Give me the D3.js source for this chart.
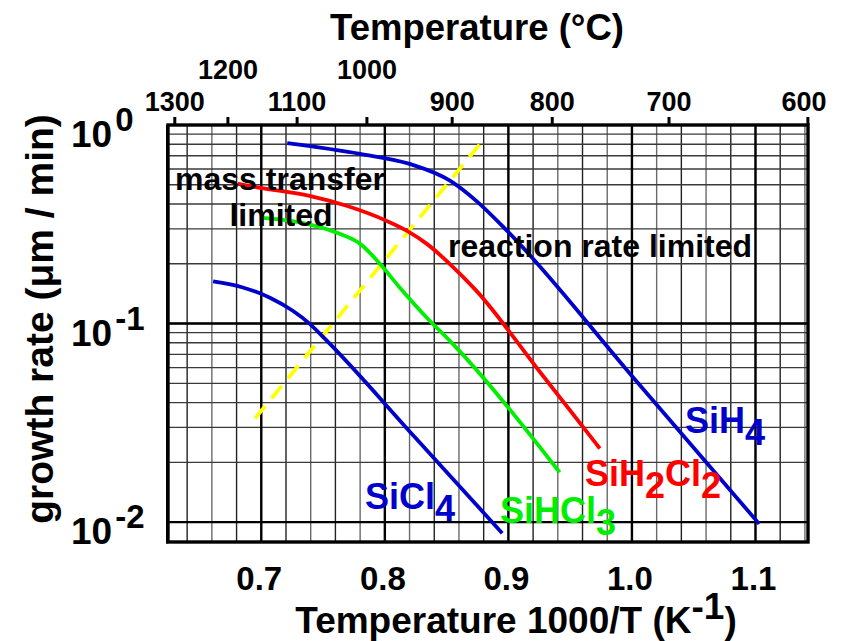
<!DOCTYPE html>
<html><head><meta charset="utf-8">
<script src="https://cdn.jsdelivr.net/npm/d3@7"></script>
<style>
html,body{margin:0;padding:0;background:#fff;}
text{font-family:"Liberation Sans",Arial,Helvetica,sans-serif;font-weight:bold;}
</style></head>
<body><svg id="c" width="842" height="641"></svg>
<script>
// ---- data ----
const sih4X    = [0.721, 0.780, 0.820, 0.853, 0.874, 0.899, 1.000, 1.103];
const sih4Y    = [0.810, 0.715, 0.637, 0.523, 0.415, 0.293, 0.0545, 0.0098];
const sih2cl2X = [0.681, 0.699, 0.739, 0.769, 0.8015, 0.818, 0.834, 0.8525, 0.874, 0.924, 0.974];
const sih2cl2Y = [0.505, 0.4825, 0.440, 0.392, 0.329, 0.293, 0.252, 0.200, 0.1465, 0.0587, 0.0235];
const sihcl3X  = [0.701, 0.737, 0.7635, 0.780, 0.796, 0.812, 0.834, 0.8525, 0.9415];
const sihcl3Y  = [0.341, 0.318, 0.283, 0.252, 0.200, 0.152, 0.107, 0.082, 0.0178];
const sicl4X   = [0.661, 0.685, 0.707, 0.7255, 0.739, 0.753, 0.824, 0.895];
const sicl4Y   = [0.163, 0.152, 0.135, 0.116, 0.100, 0.082, 0.0269, 0.0088];
const boundaryX = [0.695, 0.881];
const boundaryY = [0.0333, 0.86];

const xTickVals   = [0.7, 0.8, 0.9, 1.0, 1.1];
const xTickLabels = ["0.7", "0.8", "0.9", "1.0", "1.1"];
const yTickExps   = [0, -1, -2];
const topTempsC   = [1300, 1200, 1100, 1000, 900, 800, 700, 600];
// positions of the °C ticks on the 1000/T axis
const topTickPos  = [0.6300, 0.6730, 0.7290, 0.7855, 0.8545, 0.9355, 1.0300, 1.1424];
const topUpperRow = [false, true, false, true, false, false, false, false];

// ---- layout ----
const L = 168, R = 808, T = 125, B = 542;
const svg = d3.select("#c");
svg.append("rect").attr("width", 842).attr("height", 641).attr("fill", "#fff");

const x = d3.scaleLinear().domain([0.6245, 1.1425]).range([L, R]);
const y = d3.scaleLog().domain([Math.pow(10, -2.1), 1]).range([B, T]);

// grid
const g = svg.append("g");
const vMinor = d3.range(64, 115, 2).map(v => v / 100).filter(v => x(v) > L + 3 && x(v) < R - 3);
g.selectAll("line.vm").data(vMinor).enter().append("line")
  .attr("x1", d => x(d)).attr("x2", d => x(d)).attr("y1", T).attr("y2", B)
  .attr("stroke", (d, i) => i % 2 ? "#6a6a6a" : "#222").attr("stroke-width", 1.4);
const hVals = [];
[-2, -1].forEach(e => { for (let k = 1; k <= 9; k++) hVals.push(k * Math.pow(10, e)); });
g.selectAll("line.hm").data(hVals.filter(v => y(v) > T + 3)).enter().append("line")
  .attr("x1", L).attr("x2", R).attr("y1", d => y(d)).attr("y2", d => y(d))
  .attr("stroke", "#3a3a3a").attr("stroke-width", 1.4);
// major grid
g.selectAll("line.vM").data(xTickVals).enter().append("line")
  .attr("x1", d => x(d)).attr("x2", d => x(d)).attr("y1", T).attr("y2", B)
  .attr("stroke", "#000").attr("stroke-width", 2.4);
g.selectAll("line.hM").data([0.1, 0.01]).enter().append("line")
  .attr("x1", L).attr("x2", R).attr("y1", d => y(d)).attr("y2", d => y(d))
  .attr("stroke", "#000").attr("stroke-width", 2.4);

// curves
const line = d3.line().x(d => x(d[0])).y(d => y(d[1])).curve(d3.curveMonotoneX);
const zip = (a, b) => a.map((v, i) => [v, b[i]]);
svg.append("path").datum(zip(boundaryX, boundaryY)).attr("d", d3.line().x(d => x(d[0])).y(d => y(d[1])))
  .attr("fill", "none").attr("stroke", "#ffff00").attr("stroke-width", 3.8).attr("stroke-dasharray", "16,10");
const series = [
  {xs: sih4X, ys: sih4Y, c: "#0000cc"},
  {xs: sih2cl2X, ys: sih2cl2Y, c: "#ff0000"},
  {xs: sihcl3X, ys: sihcl3Y, c: "#00ee00"},
  {xs: sicl4X, ys: sicl4Y, c: "#0000cc"}
];
series.forEach(s => {
  svg.append("path").datum(zip(s.xs, s.ys)).attr("d", line)
    .attr("fill", "none").attr("stroke", s.c).attr("stroke-width", 3.8);
});

// frame
svg.append("rect").attr("x", L).attr("y", T).attr("width", R - L).attr("height", B - T)
  .attr("fill", "none").attr("stroke", "#000").attr("stroke-width", 3.4);
svg.append("line").attr("x1", L - 1).attr("x2", L - 1).attr("y1", T).attr("y2", B + 1.5)
  .attr("stroke", "#000").attr("stroke-width", 2);

// top axis
svg.selectAll("line.tt").data(topTickPos).enter().append("line")
  .attr("x1", d => x(d)).attr("x2", d => x(d)).attr("y1", T).attr("y2", T - 8)
  .attr("stroke", "#000").attr("stroke-width", 3);
svg.selectAll("text.tl").data(topTempsC).enter().append("text")
  .attr("x", (d, i) => Math.min(x(topTickPos[i]), R - 4))
  .attr("y", (d, i) => topUpperRow[i] ? 79 : 111)
  .attr("text-anchor", "middle").attr("font-size", 27).text(d => d);
svg.append("text").attr("x", 477).attr("y", 40).attr("text-anchor", "middle")
  .attr("font-size", 36.5).text("Temperature (°C)");

// bottom axis labels
svg.selectAll("text.bl").data(xTickVals).enter().append("text")
  .attr("x", d => x(d) - 2).attr("y", 590).attr("text-anchor", "middle")
  .attr("font-size", 33).text((d, i) => xTickLabels[i]);
const bt = svg.append("text").attr("x", 516).attr("y", 633).attr("text-anchor", "middle").attr("font-size", 37);
bt.append("tspan").text("Temperature 1000/T (K");
bt.append("tspan").attr("dy", -14).text("-1");
bt.append("tspan").attr("dy", 14).text(")");

// left axis labels
yTickExps.forEach(e => {
  const t = svg.append("text").attr("x", 71).attr("y", y(Math.pow(10, e)) + 22).attr("font-size", 37);
  t.append("tspan").text("10");
  t.append("tspan").attr("dx", 3).attr("dy", -16).attr("font-size", 33).text(String(e));
});
svg.append("text").attr("transform", "translate(53,319) rotate(-90)").attr("text-anchor", "middle")
  .attr("font-size", 39).text("growth rate (μm / min)");

// annotations
svg.append("text").attr("x", 280).attr("y", 190).attr("text-anchor", "middle").attr("font-size", 32).text("mass transfer");
svg.append("text").attr("x", 281).attr("y", 226).attr("text-anchor", "middle").attr("font-size", 32).text("limited");
svg.append("text").attr("x", 600).attr("y", 257).attr("text-anchor", "middle").attr("font-size", 32).text("reaction rate limited");

function chem(parts, xx, yy, color) {
  const t = svg.append("text").attr("x", xx).attr("y", yy).attr("font-size", 36).attr("fill", color);
  let low = false;
  parts.forEach(p => {
    const sub = /^[0-9]$/.test(p);
    const dy = sub && !low ? 12 : (!sub && low ? -12 : 0);
    t.append("tspan").attr("dy", dy).text(p);
    low = sub;
  });
}
chem(["SiH", "4"], 685, 433, "#0000cc");
chem(["SiH", "2", "Cl", "2"], 585, 486, "#ff0000");
chem(["SiHCl", "3"], 500, 523, "#00ee00");
chem(["SiCl", "4"], 365, 509, "#0000cc");
</script></body></html>
